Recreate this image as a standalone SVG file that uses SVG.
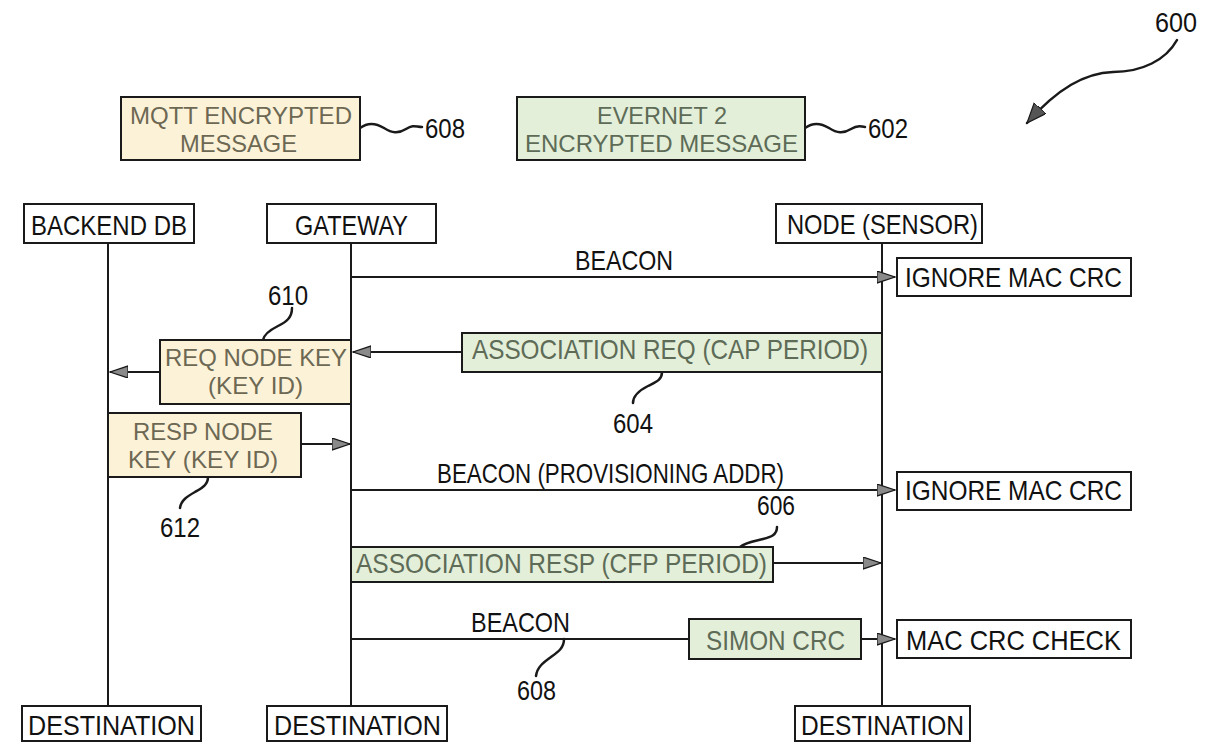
<svg xmlns="http://www.w3.org/2000/svg" width="1217" height="742" viewBox="0 0 1217 742">
<style>
text{font-family:"Liberation Sans",Arial,sans-serif;font-size:28px;fill:#111}
text.two{font-size:24px}
.box{fill:#fff;stroke:#1a1a1a;stroke-width:2}
.cream{fill:#fcf2d8;stroke:#1a1a1a;stroke-width:2}
.green{fill:#e3efd9;stroke:#1a1a1a;stroke-width:2}
.ct{fill:#6c6853}
.gt{fill:#5d6b57}
.life{stroke:#1a1a1a;stroke-width:2;fill:none}
.msg{stroke:#1a1a1a;stroke-width:2;fill:none}
.lead{stroke:#1a1a1a;stroke-width:2.5;fill:none;stroke-linecap:round}
</style>
<defs>
<marker id="ah" markerUnits="userSpaceOnUse" markerWidth="20" markerHeight="14" refX="18" refY="6" orient="auto">
<path d="M0,0 L18,6 L0,12 z" fill="#8a8a8a" stroke="#1a1a1a" stroke-width="1.2"/>
</marker>
<marker id="ah600" markerUnits="userSpaceOnUse" markerWidth="24" markerHeight="18" refX="20" refY="8" orient="auto">
<path d="M0,0 L20,8 L0,16 z" fill="#555" stroke="#1a1a1a" stroke-width="1.2"/>
</marker>
</defs>

<g id="connectors">
<line class="life" x1="108" y1="243" x2="108" y2="706"/>
<line class="life" x1="351" y1="243" x2="351" y2="706"/>
<line class="life" x1="882" y1="243" x2="882" y2="706"/>
<line class="msg" x1="351" y1="277" x2="895" y2="277" marker-end="url(#ah)"/>
<line class="msg" x1="462" y1="352" x2="353" y2="352" marker-end="url(#ah)"/>
<line class="msg" x1="160" y1="372" x2="110" y2="372" marker-end="url(#ah)"/>
<line class="msg" x1="301" y1="444" x2="350" y2="444" marker-end="url(#ah)"/>
<line class="msg" x1="351" y1="490" x2="895" y2="490" marker-end="url(#ah)"/>
<line class="msg" x1="773" y1="563" x2="881" y2="563" marker-end="url(#ah)"/>
<line class="msg" x1="351" y1="639" x2="689" y2="639"/>
<line class="msg" x1="861" y1="639" x2="895" y2="639" marker-end="url(#ah)"/>
<path class="lead" d="M360,128 c8,-6 16,-5 24,0 s14,6 22,1 s10,-2 16,-2"/>
<path class="lead" d="M805,128 c8,-6 16,-5 24,0 s14,6 22,1 s10,-2 14,-2"/>
<path class="lead" d="M292,308 c0,10 -6,14 -14,18 s-14,8 -15,14"/>
<path class="lead" d="M662,372 c0,8 -6,10 -14,14 s-15,9 -15,17"/>
<path class="lead" d="M208,477 c0,8 -6,11 -13,15 s-14,8 -15,16"/>
<path class="lead" d="M777,527 c0,8 -6,10 -14,12 s-17,3 -23,8"/>
<path class="lead" d="M564,639 c0,9 -6,13 -13,18 s-14,10 -15,19"/>
<path class="lead" d="M1177,40 C1166,60 1142,72 1113,72 C1085,73 1058,88 1027,123" marker-end="url(#ah600)"/>
</g>

<g id="label-600"><text x="1155" y="32" textLength="42" lengthAdjust="spacingAndGlyphs">600</text></g>

<g id="legend-mqtt">
<rect class="cream" x="121" y="97" width="239" height="63"/>
<text class="ct two" x="130" y="124" textLength="222" lengthAdjust="spacingAndGlyphs">MQTT ENCRYPTED</text>
<text class="ct two" x="180" y="152" textLength="117" lengthAdjust="spacingAndGlyphs">MESSAGE</text>
<text x="425" y="138" textLength="40" lengthAdjust="spacingAndGlyphs">608</text>
</g>

<g id="legend-evernet">
<rect class="green" x="517" y="97" width="288" height="63"/>
<text class="gt two" x="597" y="124" textLength="130" lengthAdjust="spacingAndGlyphs">EVERNET 2</text>
<text class="gt two" x="525" y="152" textLength="273" lengthAdjust="spacingAndGlyphs">ENCRYPTED MESSAGE</text>
<text x="868" y="138" textLength="40" lengthAdjust="spacingAndGlyphs">602</text>
</g>

<g id="backend-db">
<rect class="box" x="24" y="204" width="170" height="39"/>
<text x="31" y="235" textLength="156" lengthAdjust="spacingAndGlyphs">BACKEND DB</text>
</g>
<g id="gateway">
<rect class="box" x="267" y="204" width="169" height="39"/>
<text x="295" y="235" textLength="113" lengthAdjust="spacingAndGlyphs">GATEWAY</text>
</g>
<g id="node-sensor">
<rect class="box" x="776" y="204" width="206" height="39"/>
<text x="787" y="234" textLength="191" lengthAdjust="spacingAndGlyphs">NODE (SENSOR)</text>
</g>

<g id="msg-beacon-1"><text x="575" y="270" textLength="98" lengthAdjust="spacingAndGlyphs">BEACON</text></g>
<g id="ignore-mac-crc-1">
<rect class="box" x="897" y="258" width="234" height="38"/>
<text x="905" y="287" textLength="217" lengthAdjust="spacingAndGlyphs">IGNORE MAC CRC</text>
</g>

<g id="assoc-req">
<rect class="green" x="462" y="333" width="420" height="39"/>
<text class="gt" x="472" y="359" textLength="396" lengthAdjust="spacingAndGlyphs">ASSOCIATION REQ (CAP PERIOD)</text>
</g>
<g id="label-604"><text x="613" y="433" textLength="40" lengthAdjust="spacingAndGlyphs">604</text></g>

<g id="req-node-key">
<rect class="cream" x="160" y="340" width="191" height="64"/>
<text class="ct two" x="165" y="366" textLength="182" lengthAdjust="spacingAndGlyphs">REQ NODE KEY</text>
<text class="ct two" x="208" y="394" textLength="95" lengthAdjust="spacingAndGlyphs">(KEY ID)</text>
</g>
<g id="label-610"><text x="268" y="305" textLength="40" lengthAdjust="spacingAndGlyphs">610</text></g>

<g id="resp-node-key">
<rect class="cream" x="108" y="413" width="193" height="64"/>
<text class="ct two" x="133" y="440" textLength="140" lengthAdjust="spacingAndGlyphs">RESP NODE</text>
<text class="ct two" x="128" y="468" textLength="150" lengthAdjust="spacingAndGlyphs">KEY (KEY ID)</text>
</g>
<g id="label-612"><text x="160" y="537" textLength="40" lengthAdjust="spacingAndGlyphs">612</text></g>

<g id="msg-beacon-prov"><text x="437" y="483" textLength="347" lengthAdjust="spacingAndGlyphs">BEACON (PROVISIONING ADDR)</text></g>
<g id="ignore-mac-crc-2">
<rect class="box" x="897" y="472" width="234" height="38"/>
<text x="905" y="500" textLength="217" lengthAdjust="spacingAndGlyphs">IGNORE MAC CRC</text>
</g>

<g id="assoc-resp">
<rect class="green" x="351" y="547" width="422" height="35"/>
<text class="gt" x="356" y="573" textLength="411" lengthAdjust="spacingAndGlyphs">ASSOCIATION RESP (CFP PERIOD)</text>
</g>
<g id="label-606"><text x="757" y="515" textLength="38" lengthAdjust="spacingAndGlyphs">606</text></g>

<g id="msg-beacon-3"><text x="471" y="632" textLength="99" lengthAdjust="spacingAndGlyphs">BEACON</text></g>
<g id="simon-crc">
<rect class="green" x="689" y="619" width="172" height="40"/>
<text class="gt" x="706" y="650" textLength="139" lengthAdjust="spacingAndGlyphs">SIMON CRC</text>
</g>
<g id="mac-crc-check">
<rect class="box" x="897" y="620" width="234" height="38"/>
<text x="906" y="650" textLength="215" lengthAdjust="spacingAndGlyphs">MAC CRC CHECK</text>
</g>
<g id="label-608b"><text x="517" y="700" textLength="39" lengthAdjust="spacingAndGlyphs">608</text></g>

<g id="dest-backend">
<rect class="box" x="22" y="706" width="179" height="35"/>
<text x="28" y="735" textLength="167" lengthAdjust="spacingAndGlyphs">DESTINATION</text>
</g>
<g id="dest-gateway">
<rect class="box" x="267" y="706" width="180" height="35"/>
<text x="274" y="735" textLength="167" lengthAdjust="spacingAndGlyphs">DESTINATION</text>
</g>
<g id="dest-node">
<rect class="box" x="795" y="706" width="175" height="35"/>
<text x="801" y="735" textLength="163" lengthAdjust="spacingAndGlyphs">DESTINATION</text>
</g>
</svg>
